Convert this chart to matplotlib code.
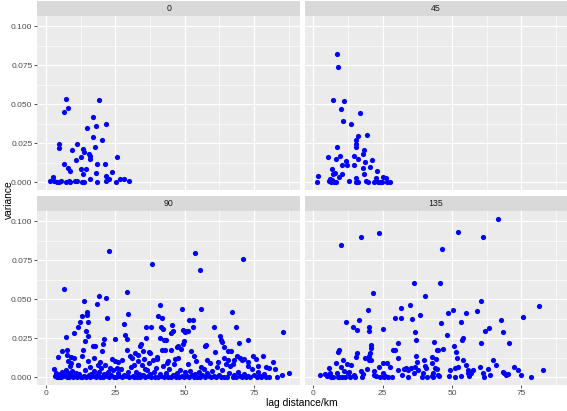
import numpy as np
import matplotlib.pyplot as plt

# ----- DATA -----
dist_0 = [1.4, 2.3, 3.0, 3.9, 4.6, 4.7, 4.8, 5.4, 6.3, 6.4, 7.0, 7.2, 7.9, 8.0, 8.1, 8.5, 8.7,
          9.2, 10.3, 10.6, 11.1, 11.2, 12.6, 12.6, 12.8, 13.2, 13.3, 13.5, 13.6, 14.3, 14.9,
          15.3, 15.7, 15.9, 15.9, 16.9, 16.9, 17.5, 17.9, 17.9, 18.4, 18.5, 19.0, 20.3, 21.1,
          21.5, 21.5, 21.7, 22.7, 23.8, 25.1, 25.4, 26.7, 28.1, 29.8]
var_0 = [0.001, 0.0036, 0.001, 0.0, 0.0, 0.0245, 0.022, 0.001, 0.012, 0.045, 0.0536, 0.0,
         0.0474, 0.0094, 0.0008, 0.007, 0.0, 0.0204, 0.001, 0.0145, 0.0247, 0.001, 0.016,
         0.0085, 0.0, 0.0215, 0.005, 0.0196, 0.0, 0.0085, 0.0347, 0.0183, 0.0166, 0.0147,
         0.002, 0.0417, 0.029, 0.0228, 0.036, 0.006, 0.0119, 0.0, 0.0526, 0.0268, 0.0117,
         0.0374, 0.004, 0.001, 0.002, 0.0068, 0.0, 0.016, 0.0023, 0.002, 0.0006]

dist_45 = [1.2, 1.6, 5.1, 5.5, 6.0, 6.3, 6.6, 6.8, 6.9, 7.1, 7.3, 7.8, 8.0, 8.0, 8.4, 8.5, 8.9,
           9.1, 9.6, 9.8, 10.3, 10.4, 10.6, 11.0, 11.6, 12.1, 12.8, 13.6, 14.7, 14.8, 15.2,
           15.2, 15.2, 15.3, 15.3, 16.0, 16.1, 16.1, 16.9, 17.7, 17.9, 18.1, 18.2, 18.7, 18.9,
           19.4, 19.6, 20.3, 21.2, 21.8, 22.5, 23.0, 23.4, 23.9, 24.6, 25.1, 26.2, 26.6, 27.6]
var_45 = [0.0004, 0.0043, 0.016, 0.001, 0.0019, 0.0004, 0.0083, 0.0015, 0.053, 0.0055, 0.0,
          0.006, 0.0149, 0.0004, 0.0823, 0.0228, 0.0738, 0.0032, 0.017, 0.047, 0.0113, 0.0051,
          0.0394, 0.052, 0.0136, 0.011, 0.001, 0.0374, 0.0168, 0.011, 0.027, 0.0245, 0.0228,
          0.0028, 0.0, 0.0147, 0.0294, 0.0, 0.0443, 0.0179, 0.0094, 0.0053, 0.021, 0.013,
          0.001, 0.0306, 0.0004, 0.01, 0.014, 0.0, 0.0026, 0.007, 0.0004, 0.0004, 0.0004,
          0.0036, 0.003, 0.0, 0.0004]

# 90: the scattered upper points first, then the dense band near zero
dist_90 = [2.7, 3.5, 4.1, 4.6, 5.7, 6.5, 7.0, 7.6, 7.5, 7.9, 8.5, 8.8, 10.1, 10.1, 11.4, 11.6,
           12.3, 12.8, 13.0, 13.3, 13.5, 14.0, 14.3, 14.6, 14.7, 15.1, 15.2, 15.1, 15.9, 16.8,
           17.1, 17.8, 18.2, 18.6, 19.1, 20.0, 20.5, 20.8, 21.7, 22.0, 22.5, 23.2, 24.8, 25.0,
           25.6, 28.0, 28.4, 29.0, 29.2, 29.2, 29.7, 30.2, 31.0, 32.2, 33.2, 33.8, 34.1, 34.8,
           35.6, 36.0, 36.2, 37.1, 37.6, 37.9, 38.3, 38.6, 39.9, 40.5, 41.0, 41.2, 41.4, 41.8,
           41.8, 42.3, 42.5, 42.8, 43.2, 43.7, 44.9, 45.2, 45.5, 45.7, 46.4, 47.1, 47.6, 48.6,
           49.0, 49.2, 49.5, 49.8, 50.1, 50.7, 51.3, 51.6, 52.2, 52.9, 53.1, 53.6, 54.1, 55.6,
           55.8, 55.8, 57.2, 57.7, 58.2, 60.4, 61.0, 62.6, 63.0, 63.6, 64.3, 65.5, 65.6, 66.7,
           67.1, 67.9, 68.4, 68.9, 69.6, 70.0, 70.9, 70.5, 72.7, 72.8, 74.7, 75.6, 78.1, 79.2,
           80.3, 81.8, 82.4, 83.3, 85.1, 85.6, 87.7,
           3.2, 4.0, 4.9, 5.3, 5.8, 6.2, 6.6, 7.1, 7.4, 7.8, 8.2, 8.9, 9.3, 9.6, 10.4, 10.8,
           11.2, 11.9, 12.4, 13.0, 13.6, 14.1, 14.5, 15.4, 15.8, 16.3, 16.9, 17.4, 17.9, 18.3,
           19.0, 19.5, 19.9, 20.4, 20.9, 21.3, 21.8, 22.3, 22.8, 23.5, 24.0, 24.4, 25.3, 25.9,
           26.4, 27.0, 27.5, 28.1, 28.7, 29.5, 30.0, 30.6, 31.3, 31.8, 32.4, 32.9, 33.5, 34.0,
           34.5, 35.1, 35.8, 36.4, 36.9, 37.4, 38.0, 38.8, 39.3, 39.7, 40.3, 40.9, 41.5, 42.0,
           42.6, 43.1, 43.9, 44.4, 45.0, 45.6, 46.1, 46.7, 47.3, 47.9, 48.4, 49.0, 49.6, 50.2,
           50.8, 51.5, 52.0, 52.6, 53.2, 53.8, 54.5, 55.0, 55.5, 56.2, 56.8, 57.4, 58.0, 58.7,
           59.3, 59.9, 60.5, 61.2, 61.8, 62.4, 63.0, 63.6, 64.2, 64.9, 65.3, 66.0, 66.5, 67.3,
           67.8, 68.5, 69.2, 69.8, 70.7, 71.4, 72.0, 72.9, 73.6, 74.3, 75.0, 75.9, 76.5, 77.0,
           77.6, 78.6, 79.5, 80.4,
           26.0, 27.3, 31.6, 33.0, 35.4, 37.0, 40.0, 44.0, 47.5, 51.0, 53.5, 59.0, 62.0, 64.0,
           67.5, 71.5, 73.0, 76.5, 19.5, 23.6, 11.5, 9.0]
var_90 = [0.0057, 0.0028, 0.0132, 0.0, 0.0168, 0.0566, 0.026, 0.0174, 0.0145, 0.0104, 0.0072,
          0.013, 0.0287, 0.0125, 0.0321, 0.0083, 0.0353, 0.0138, 0.0396, 0.0179, 0.0487, 0.0234,
          0.0296, 0.0421, 0.0398, 0.0353, 0.0266, 0.0104, 0.0066, 0.0204, 0.0123, 0.02, 0.0472,
          0.0081, 0.0523, 0.0168, 0.0215, 0.0247, 0.0509, 0.0381, 0.0809, 0.0062, 0.0249,
          0.0104, 0.0062, 0.0345, 0.0274, 0.0545, 0.0247, 0.0174, 0.0404, 0.014, 0.0126,
          0.0157, 0.0104, 0.02, 0.0217, 0.0168, 0.0057, 0.0253, 0.0326, 0.0162, 0.016, 0.0326,
          0.0728, 0.011, 0.013, 0.0391, 0.0253, 0.0462, 0.0323, 0.0381, 0.0179, 0.0313, 0.0238,
          0.0177, 0.0238, 0.0094, 0.0179, 0.0285, 0.0338, 0.03, 0.0119, 0.0194, 0.02, 0.0183,
          0.044, 0.0306, 0.0217, 0.0232, 0.0291, 0.0296, 0.0296, 0.0366, 0.0168, 0.037, 0.0323,
          0.08, 0.0104, 0.0687, 0.0438, 0.0066, 0.02, 0.0206, 0.011, 0.0323, 0.0162, 0.0268,
          0.0238, 0.0226, 0.0196, 0.0168, 0.011, 0.0168, 0.0417, 0.011, 0.0321, 0.014, 0.0221,
          0.0126, 0.0757, 0.011, 0.01, 0.0238, 0.014, 0.0119, 0.014, 0.0068, 0.0062, 0.01,
          0.0057, 0.0, 0.0019, 0.0291, 0.0026,
          0.001, 0.0004, 0.0022, 0.0, 0.0036, 0.0008, 0.0015, 0.0045, 0.0, 0.0028, 0.0006,
          0.0018, 0.0042, 0.0, 0.0009, 0.0031, 0.0, 0.0021, 0.0005, 0.0, 0.0012, 0.0047, 0.0003,
          0.0016, 0.0, 0.0025, 0.0007, 0.004, 0.0, 0.0013, 0.0034, 0.0005, 0.0058, 0.0, 0.0022,
          0.0078, 0.001, 0.0035, 0.0, 0.0016, 0.0045, 0.0003, 0.0, 0.0027, 0.0008, 0.0052, 0.0,
          0.0019, 0.0008, 0.0032, 0.0, 0.0066, 0.0012, 0.0, 0.0038, 0.0006, 0.0024, 0.0, 0.0083,
          0.0015, 0.0, 0.0046, 0.0008, 0.0021, 0.0, 0.0037, 0.0005, 0.0061, 0.0, 0.0024, 0.0009,
          0.0072, 0.0, 0.0031, 0.0004, 0.0055, 0.0, 0.0018, 0.0085, 0.0006, 0.0027, 0.0, 0.0048,
          0.0012, 0.0, 0.0036, 0.0007, 0.0, 0.0044, 0.0016, 0.0, 0.0025, 0.0005, 0.0033, 0.0,
          0.0014, 0.0052, 0.0, 0.0028, 0.0008, 0.0, 0.0041, 0.0011, 0.0, 0.0064, 0.0019, 0.0,
          0.0047, 0.0006, 0.0088, 0.0, 0.0029, 0.0073, 0.0, 0.0015, 0.0, 0.0037, 0.0009, 0.0,
          0.0023, 0.0, 0.0011, 0.0, 0.0054, 0.0015, 0.0, 0.0032, 0.0009, 0.0, 0.0021, 0.0,
          0.0005,
          0.0098, 0.0115, 0.0082, 0.0146, 0.0118, 0.0093, 0.0121, 0.0107, 0.0128, 0.0085,
          0.0135, 0.0092, 0.0098, 0.0128, 0.0088, 0.0121, 0.0075, 0.0072, 0.0098, 0.0121,
          0.0078, 0.0092]

dist_135 = [2.2, 4.2, 4.8, 5.6, 6.0, 6.5, 7.2, 8.0, 8.4, 8.7, 8.9, 9.1, 9.3, 9.8, 10.0, 10.4,
            10.6, 11.1, 11.5, 11.7, 12.1, 12.3, 12.8, 13.2, 13.5, 14.4, 14.7, 15.1, 15.3, 15.6,
            15.7, 16.5, 17.0, 17.2, 17.5, 17.8, 18.7, 19.4, 19.7, 19.9, 19.9, 20.0, 20.1, 20.5,
            20.7, 20.8, 20.8, 21.4, 21.8, 22.0, 22.7, 23.7, 23.7, 24.0, 25.1, 25.1, 25.2, 25.4,
            25.8, 26.4, 27.0, 27.6, 28.3, 28.6, 29.3, 29.5, 30.5, 30.6, 30.6, 31.5, 31.7, 31.8,
            32.5, 33.1, 33.5, 34.1, 34.2, 35.0, 35.1, 35.5, 36.1, 36.1, 36.5, 36.7, 36.9, 37.0,
            37.2, 37.8, 38.3, 39.2, 39.7, 39.8, 40.2, 40.4, 40.7, 41.0, 42.7, 42.7, 42.8, 43.1,
            43.3, 43.5, 43.9, 44.3, 44.4, 44.6, 45.0, 45.1, 45.3, 45.8, 46.1, 46.4, 46.7, 48.2,
            48.7, 48.8, 49.4, 50.2, 50.8, 51.1, 51.2, 51.4, 51.7, 52.0, 52.0, 53.3, 53.5, 53.8,
            54.0, 53.3, 55.0, 55.0, 55.6, 55.9, 56.2, 56.8, 57.4, 59.1, 60.1, 60.4, 60.5, 61.0,
            61.1, 61.7, 62.0, 62.8, 63.2, 63.7, 64.7, 65.8, 66.7, 67.5, 68.3, 68.3, 68.9, 69.5,
            70.3, 70.6, 72.5, 73.7, 75.0, 75.7, 78.6, 81.2, 82.8]
var_135 = [0.0015, 0.0023, 0.0009, 0.0062, 0.003, 0.0004, 0.0, 0.0094, 0.0026, 0.0, 0.0164,
           0.0179, 0.0, 0.007, 0.0847, 0.0006, 0.0109, 0.004, 0.0004, 0.0353, 0.0089, 0.0026,
           0.0038, 0.0, 0.0081, 0.0326, 0.0017, 0.0006, 0.0132, 0.016, 0.0302, 0.0368, 0.0043,
           0.0898, 0.0006, 0.0023, 0.0123, 0.0053, 0.043, 0.0296, 0.0321, 0.014, 0.0109, 0.0155,
           0.0189, 0.0209, 0.0111, 0.0543, 0.0013, 0.004, 0.0009, 0.0923, 0.0068, 0.0, 0.0313,
           0.0094, 0.0026, 0.0, 0.0009, 0.0094, 0.0, 0.0066, 0.0, 0.0179, 0.0383, 0.0179,
           0.0223, 0.0051, 0.0126, 0.0383, 0.0445, 0.0017, 0.0057, 0.0057, 0.0062, 0.0, 0.0045,
           0.0462, 0.0062, 0.0377, 0.0604, 0.003, 0.007, 0.0294, 0.0238, 0.014, 0.0098, 0.0047,
           0.0402, 0.0004, 0.0026, 0.0109, 0.0519, 0.0072, 0.0062, 0.0004, 0.0009, 0.0094,
           0.0134, 0.003, 0.0, 0.0228, 0.0062, 0.0121, 0.0057, 0.0174, 0.0017, 0.0179, 0.0009,
           0.0604, 0.0349, 0.0823, 0.0183, 0.027, 0.0415, 0.0009, 0.0051, 0.043, 0.02, 0.0,
           0.0062, 0.0166, 0.0126, 0.0934, 0.0068, 0.0353, 0.0243, 0.0253, 0.0115, 0.0009,
           0.0413, 0.0079, 0.0051, 0.0026, 0.0009, 0.003, 0.0051, 0.0426, 0.0066, 0.0221,
           0.0491, 0.003, 0.0898, 0.0004, 0.0298, 0.0057, 0.0319, 0.0019, 0.0111, 0.0079,
           0.1013, 0.0366, 0.0294, 0.0034, 0.0026, 0.0019, 0.0021, 0.0221, 0.0064, 0.0045,
           0.0019, 0.0385, 0.0006, 0.046, 0.0047]

panel_labels = ["0", "45", "90", "135"]
panel_data = [(dist_0, var_0), (dist_45, var_45), (dist_90, var_90), (dist_135, var_135)]

x_ticks = [0, 25, 50, 75]
y_ticks = [0.0, 0.025, 0.05, 0.075, 0.1]
y_tick_labels = ["0.000", "0.025", "0.050", "0.075", "0.100"]

# --------------------------
#  PLOTTING (ggplot-like facets)
# --------------------------
plt.rcParams['font.family'] = ['Liberation Sans', 'DejaVu Sans']

W, H = 567, 411
fig = plt.figure(figsize=(W / 100, H / 100), dpi=100)

# panel boxes in pixels: (left, top, width, height)
pw, ph = 263.0, 174.0
lefts = [37.3, 304.6]
tops = [16.2, 211.4]
strip_h = 15.0

for i, (label, (xs, ys)) in enumerate(zip(panel_labels, panel_data)):
    row, col = divmod(i, 2)
    l, t = lefts[col], tops[row]
    ax = fig.add_axes([l / W, 1 - (t + ph) / H, pw / W, ph / H])
    ax.set_facecolor("#EBEBEB")
    for s in ax.spines.values():
        s.set_visible(False)

    ax.set_xlim(-3.2, 91.7)
    ax.set_ylim(-0.00507, 0.1064)
    ax.set_xticks(x_ticks)
    ax.set_xticks([12.5, 37.5, 62.5, 87.5], minor=True)
    ax.set_yticks(y_ticks)
    ax.set_yticks([0.0125, 0.0375, 0.0625, 0.0875], minor=True)
    ax.grid(which="major", color="white", linewidth=0.9)
    ax.grid(which="minor", color="white", linewidth=0.45)
    ax.set_axisbelow(True)

    ax.scatter(xs, ys, s=14, color="blue", linewidths=0, zorder=3)

    ax.tick_params(which="minor", length=0)
    ax.tick_params(which="major", length=2.0, width=0.6, color="#333333",
                   labelsize=6.0, labelcolor="#4D4D4D", pad=1.5)
    if col == 0:
        ax.set_yticklabels(y_tick_labels)
    else:
        ax.tick_params(axis="y", length=0, labelleft=False)
    if row == 0:
        ax.tick_params(axis="x", length=0, labelbottom=False)

    # facet strip
    sax = fig.add_axes([l / W, 1 - t / H, pw / W, strip_h / H])
    sax.set_facecolor("#D9D9D9")
    sax.set_xticks([])
    sax.set_yticks([])
    for s in sax.spines.values():
        s.set_visible(False)
    sax.text(0.5, 0.5, label, ha="center", va="center", fontsize=6.3, color="#1A1A1A",
             transform=sax.transAxes)

fig.text(8.5 / W, 1 - 200 / H, "variance", rotation=90, ha="center", va="center",
         fontsize=7.4, color="black")
fig.text(302 / W, 1 - 403 / H, "lag distance/km", ha="center", va="center",
         fontsize=7.4, color="black")

fig.savefig("out.png", dpi=100)
